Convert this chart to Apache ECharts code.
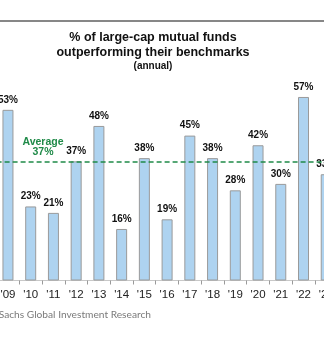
<!DOCTYPE html>
<html>
<head>
<meta charset="utf-8">
<script src="https://cdn.jsdelivr.net/npm/echarts@6/dist/echarts.min.js"></script>
<style>
  html, body { margin: 0; padding: 0; background: #fff; overflow: hidden; }
  #wrap { position: relative; width: 324px; height: 339px; overflow: hidden; }
  /* chart canvas runs past both edges of the page */
  #chart { position: absolute; left: -40px; top: 0; width: 404px; height: 339px; }
</style>
</head>
<body>
<div id="wrap"><div id="chart"></div></div>
<script>
// Annual share of large-cap mutual funds beating their benchmark
const years = ["'09", "'10", "'11", "'12", "'13", "'14", "'15", "'16", "'17", "'18", "'19", "'20", "'21", "'22", "'23"];
const outperformPct = [53, 23, 21, 37, 48, 16, 38, 19, 45, 38, 28, 42, 30, 57, 33];
const averagePct = 37;

const OFF = 40; // horizontal offset of the canvas
const chart = echarts.init(document.getElementById('chart'), null, { renderer: 'canvas' });

const green = '#1f8a48';
const sans = '"Liberation Sans", Arial, sans-serif';

chart.setOption({
  animation: false,
  backgroundColor: '#ffffff',
  grid: { left: OFF - 3.4, width: 341, top: 87.3, height: 193.2, containLabel: false },
  xAxis: {
    type: 'category',
    data: years,
    axisLine: { show: true, lineStyle: { color: '#c8c8c8', width: 1 } },
    axisTick: { show: true, alignWithLabel: false, length: 4, lineStyle: { color: '#9a9a9a' } },
    axisLabel: { color: '#222', fontFamily: sans, fontSize: 11.5, margin: 8 }
  },
  yAxis: {
    type: 'value',
    min: 0,
    max: 60,
    show: false,
    splitLine: { show: false }
  },
  series: [{
    type: 'bar',
    data: outperformPct,
    barWidth: 11,
    itemStyle: { color: '#aed3f0', borderColor: '#9a9a9a', borderWidth: 1 },
    label: {
      show: true, position: 'top', distance: 5,
      formatter: p => p.value + '%',
      fontFamily: sans, fontSize: 10, fontWeight: 'bold', color: '#111'
    },
    markLine: {
      silent: true,
      symbol: 'none',
      label: { show: false },
      lineStyle: { color: green, type: [5, 3], width: 1.6 },
      data: [{ yAxis: averagePct }]
    }
  }],
  graphic: [
    {
      type: 'line',
      shape: { x1: 0, y1: 21, x2: 404, y2: 21 },
      style: { stroke: '#878787', lineWidth: 2 }
    },
    {
      type: 'text',
      style: {
        text: '% of large-cap mutual funds',
        x: OFF + 153, y: 38, textAlign: 'center', textVerticalAlign: 'middle',
        fill: '#111', font: 'bold 12.5px ' + sans
      }
    },
    {
      type: 'text',
      style: {
        text: 'outperforming their benchmarks',
        x: OFF + 153, y: 53, textAlign: 'center', textVerticalAlign: 'middle',
        fill: '#111', font: 'bold 12.5px ' + sans
      }
    },
    {
      type: 'text',
      style: {
        text: '(annual)',
        x: OFF + 153, y: 66, textAlign: 'center', textVerticalAlign: 'middle',
        fill: '#111', font: 'bold 10px ' + sans
      }
    },
    {
      type: 'text',
      style: {
        text: 'Average',
        x: OFF + 43, y: 142, textAlign: 'center', textVerticalAlign: 'middle',
        fill: green, font: 'bold 10.5px ' + sans
      }
    },
    {
      type: 'text',
      style: {
        text: averagePct + '%',
        x: OFF + 43, y: 152.5, textAlign: 'center', textVerticalAlign: 'middle',
        fill: green, font: 'bold 10.5px ' + sans
      }
    },
    {
      type: 'text',
      style: {
        text: 'Source: Goldman Sachs Global Investment Research',
        x: OFF + 151, y: 315, textAlign: 'right', textVerticalAlign: 'middle',
        fill: '#7a7a7a', font: '10.2px Lato, "Open Sans", sans-serif'
      }
    }
  ]
});
</script>
</body>
</html>
